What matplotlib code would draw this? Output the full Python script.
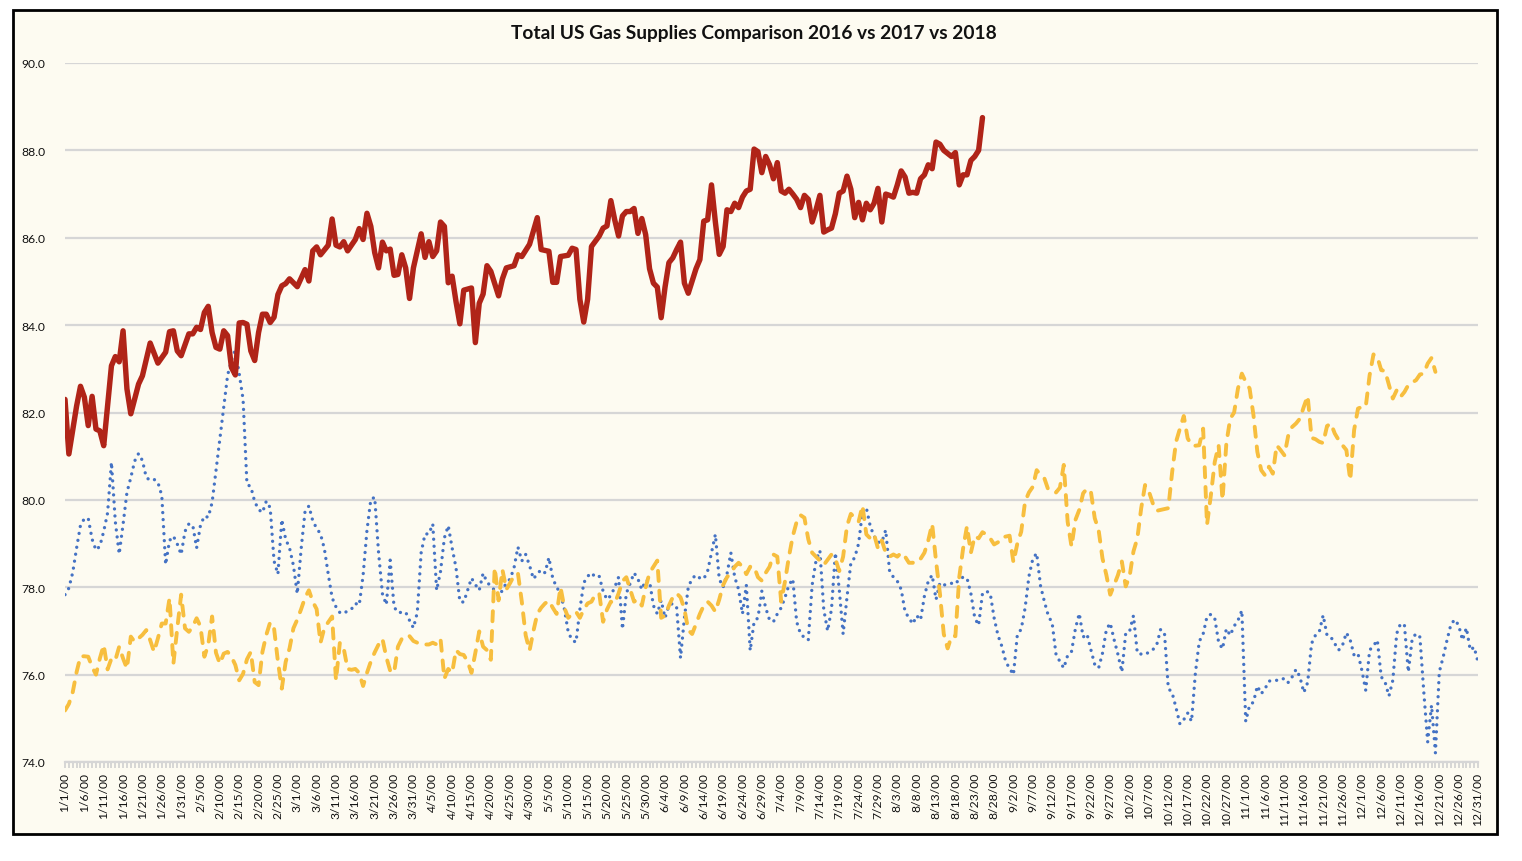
import matplotlib
matplotlib.use("Agg")
import matplotlib.pyplot as plt
from matplotlib.patches import Rectangle

plt.rcParams['font.family'] = ['Lato', 'DejaVu Sans']

title = "Total US Gas Supplies Comparison 2016 vs 2017 vs 2018"

tick_days = list(range(0, 366, 5))
tick_labels = ["1/1/00", "1/6/00", "1/11/00", "1/16/00", "1/21/00", "1/26/00", "1/31/00",
               "2/5/00", "2/10/00", "2/15/00", "2/20/00", "2/25/00", "3/1/00", "3/6/00",
               "3/11/00", "3/16/00", "3/21/00", "3/26/00", "3/31/00", "4/5/00", "4/10/00",
               "4/15/00", "4/20/00", "4/25/00", "4/30/00", "5/5/00", "5/10/00", "5/15/00",
               "5/20/00", "5/25/00", "5/30/00", "6/4/00", "6/9/00", "6/14/00", "6/19/00",
               "6/24/00", "6/29/00", "7/4/00", "7/9/00", "7/14/00", "7/19/00", "7/24/00",
               "7/29/00", "8/3/00", "8/8/00", "8/13/00", "8/18/00", "8/23/00", "8/28/00",
               "9/2/00", "9/7/00", "9/12/00", "9/17/00", "9/22/00", "9/27/00", "10/2/00",
               "10/7/00", "10/12/00", "10/17/00", "10/22/00", "10/27/00", "11/1/00",
               "11/6/00", "11/11/00", "11/16/00", "11/21/00", "11/26/00", "12/1/00",
               "12/6/00", "12/11/00", "12/16/00", "12/21/00", "12/26/00", "12/31/00"]

# (day of year index, value)
s2018 = [(0,82.3),(1,81.05),(3,82.15),(4,82.6),(5,82.35),(6,81.7),(7,82.37),(8,81.62),(9,81.58),(10,81.24),
 (12,83.07),(13,83.28),(14,83.16),(15,83.87),(16,82.54),(17,81.97),(19,82.65),(20,82.84),(22,83.59),(24,83.13),
 (26,83.38),(27,83.85),(28,83.87),(29,83.41),(30,83.3),(32,83.8),(33,83.8),(34,83.95),(35,83.9),(36,84.29),
 (37,84.43),(38,83.83),(39,83.49),(40,83.45),(41,83.87),(42,83.76),(43,83.03),(44,82.86),(45,84.05),(46,84.06),
 (47,84.02),(48,83.41),(49,83.19),(50,83.83),(51,84.25),(52,84.25),(53,84.06),(54,84.18),(55,84.7),(56,84.9),
 (57,84.95),(58,85.06),(60,84.88),(62,85.27),(63,85.01),(64,85.7),(65,85.79),(66,85.61),(68,85.83),(69,86.43),
 (70,85.83),(71,85.79),(72,85.91),(73,85.7),(75,85.96),(76,86.21),(77,85.96),(78,86.56),(79,86.26),(80,85.66),
 (81,85.31),(82,85.9),(83,85.7),(84,85.74),(85,85.14),(86,85.16),(87,85.61),(88,85.31),(89,84.61),(90,85.31),
 (92,86.09),(93,85.55),(94,85.91),(95,85.57),(96,85.7),(97,86.36),(98,86.26),(99,84.97),(100,85.12),(101,84.54),
 (102,84.03),(103,84.8),(105,84.85),(106,83.6),(107,84.5),(108,84.71),(109,85.36),(110,85.23),(112,84.67),
 (113,85.06),(114,85.31),(116,85.36),(117,85.61),(118,85.57),(120,85.85),(122,86.46),(123,85.73),(124,85.71),
 (125,85.69),(126,84.98),(127,84.98),(128,85.57),(130,85.6),(131,85.76),(132,85.73),(133,84.59),(134,84.07),
 (135,84.59),(136,85.8),(138,86.04),(139,86.22),(140,86.27),(141,86.85),(142,86.41),(143,86.04),(144,86.5),
 (145,86.6),(146,86.6),(147,86.67),(148,86.1),(149,86.44),(150,86.07),(151,85.29),(152,84.96),(153,84.87),
 (154,84.17),(155,84.87),(156,85.43),(157,85.54),(158,85.73),(159,85.9),(160,84.96),(161,84.73),(162,85.01),
 (163,85.29),(164,85.5),(165,86.38),(166,86.41),(167,87.21),(168,86.36),(169,85.62),(170,85.8),(171,86.64),
 (172,86.6),(173,86.79),(174,86.69),(175,86.93),(176,87.07),(177,87.11),(178,88.03),(179,87.97),(180,87.49),
 (181,87.86),(182,87.67),(183,87.35),(184,87.72),(185,87.07),(186,87.02),(187,87.11),(188,87.0),(189,86.88),
 (190,86.69),(191,86.97),(192,86.88),(193,86.36),(194,86.64),(195,86.97),(196,86.13),(197,86.18),(198,86.22),
 (199,86.55),(200,87.02),(201,87.07),(202,87.41),(203,87.11),(204,86.46),(205,86.81),(206,86.41),(207,86.79),
 (208,86.64),(209,86.79),(210,87.13),(211,86.36),(212,87.0),(213,86.97),(214,86.93),(215,87.21),(216,87.53),
 (217,87.39),(218,87.02),(219,87.04),(220,87.02),(221,87.35),(222,87.44),(223,87.67),(224,87.58),(225,88.19),
 (226,88.14),(227,88.0),(229,87.86),(230,87.95),(231,87.21),(232,87.44),(233,87.44),(234,87.77),(235,87.86),
 (236,88.0),(237,88.75)]

s2016 = [(0,77.83),(1,77.98),(2,78.34),(3,78.9),(4,79.42),(5,79.57),(6,79.58),(7,79.1),(8,78.85),(9,78.94),
 (10,79.28),(11,79.7),(12,80.86),(13,79.5),(14,78.76),(15,79.44),(16,80.17),(17,80.51),(18,80.89),(19,81.06),
 (20,80.9),(21,80.51),(22,80.45),(23,80.47),(24,80.4),(25,80.1),(26,78.52),(27,79.07),(28,79.17),(29,78.99),
 (30,78.75),(31,79.28),(32,79.45),(33,79.42),(34,78.9),(35,79.42),(36,79.63),(37,79.6),(38,79.94),(39,80.66),
 (40,81.39),(41,82.12),(42,82.85),(43,83.2),(44,83.44),(45,82.89),(46,82.3),(47,80.36),(48,80.3),(49,79.96),
 (50,79.78),(51,79.71),(52,79.97),(53,79.82),(54,78.6),(55,78.3),(56,79.55),(57,79.1),(58,78.9),(59,78.5),
 (60,77.85),(61,78.88),(62,79.73),(63,79.86),(64,79.52),(65,79.35),(66,79.22),(67,78.88),(68,78.3),(69,77.76),
 (70,77.55),(71,77.42),(72,77.4),(73,77.46),(74,77.5),(75,77.63),(76,77.59),(77,78.27),(78,79.3),(79,80.01),
 (80,80.06),(81,78.79),(82,77.85),(83,77.6),(84,78.62),(85,77.55),(86,77.42),(88,77.43),(89,77.24),(90,77.07),
 (91,77.42),(92,78.79),(93,79.22),(94,79.22),(95,79.45),(96,77.93),(97,78.36),(98,79.13),(99,79.41),(100,78.9),
 (101,78.45),(102,77.67),(103,77.66),(104,77.93),(105,78.21),(106,78.06),(107,77.93),(108,78.32),(109,78.12),
 (110,78.02),(111,77.93),(112,77.8),(113,77.93),(114,78.1),(115,78.19),(116,78.45),(117,78.92),(118,78.6),
 (119,78.75),(120,78.5),(121,78.19),(122,78.31),(123,78.4),(124,78.33),(125,78.68),(126,78.2),(127,78.0),
 (128,77.86),(129,77.5),(130,76.97),(131,76.79),(132,76.74),(133,77.49),(134,78.1),(135,78.25),(136,78.33),
 (137,78.23),(138,78.25),(139,77.91),(140,77.72),(141,77.81),(142,78.0),(143,78.23),(144,77.04),(145,77.86),
 (146,78.09),(147,78.33),(148,78.19),(149,77.95),(150,78.16),(151,78.14),(152,77.58),(153,77.39),(154,77.7),
 (155,77.3),(156,77.58),(157,77.63),(158,77.53),(159,76.38),(160,77.3),(161,78.0),(162,78.2),(163,78.28),
 (164,78.21),(165,78.19),(166,78.37),(167,78.79),(168,79.21),(169,78.19),(170,78.0),(171,78.3),(172,78.79),
 (173,78.23),(174,77.95),(175,77.39),(176,78.05),(177,76.55),(178,77.21),(179,77.3),(180,77.91),(181,77.53),
 (182,77.25),(183,77.21),(184,77.39),(185,77.53),(186,77.77),(187,78.05),(188,78.19),(189,77.21),(190,76.93),
 (191,76.85),(192,76.79),(193,78.05),(194,78.61),(195,78.84),(196,77.49),(197,77.0),(198,77.5),(199,78.79),
 (200,77.95),(201,76.93),(202,77.77),(203,78.56),(204,78.68),(205,79.0),(206,79.73),(207,79.82),(208,79.4),
 (209,79.17),(210,79.03),(211,79.03),(212,79.31),(213,78.37),(214,78.23),(215,78.14),(216,77.95),(217,77.44),
 (218,77.3),(219,77.16),(220,77.35),(221,77.25),(222,77.8),(223,78.14),(224,78.28),(225,77.72),(226,78.1),
 (227,78.05),(229,78.09),(230,78.07),(231,78.19),(232,78.23),(233,78.21),(234,77.86),(235,77.3),(236,77.13),
 (237,77.86),(238,77.91),(239,77.86),(240,77.3),(241,76.9),(242,76.65),(243,76.3),(244,76.14),(245,76.0),
 (246,76.91),(247,77.04),(248,77.52),(249,78.25),(250,78.65),(251,78.78),(252,78.03),(253,77.67),(254,77.35),
 (255,77.18),(256,76.46),(257,76.3),(258,76.15),(259,76.44),(260,76.53),(261,77.05),(262,77.4),(263,76.86),
 (264,76.93),(265,76.57),(266,76.23),(267,76.15),(268,76.49),(269,77.03),(270,77.18),(271,76.8),(272,76.46),
 (273,76.06),(274,76.95),(275,76.99),(276,77.35),(277,76.49),(278,76.47),(279,76.46),(281,76.57),(282,76.68),
 (283,77.03),(284,76.97),(285,75.69),(286,75.58),(287,75.24),(288,74.87),(289,74.97),(290,75.12),(291,74.93),
 (292,76.04),(293,76.76),(294,76.93),(295,77.33),(296,77.38),(297,77.29),(298,76.74),(299,76.59),(300,77.05),
 (301,76.9),(302,77.11),(303,77.24),(304,77.47),(305,74.93),(306,75.3),(307,75.37),(308,75.74),(309,75.56),
 (310,75.68),(311,75.85),(312,75.87),(314,75.87),(315,75.92),(316,75.82),(317,75.95),(318,76.12),(319,75.95),
 (320,75.59),(321,75.82),(322,76.71),(323,76.9),(324,76.98),(325,77.36),(326,76.9),(327,76.86),(328,76.71),
 (329,76.56),(330,76.67),(331,76.96),(332,76.79),(333,76.44),(334,76.48),(335,76.1),(336,75.64),(337,76.56),
 (338,76.66),(339,76.79),(340,75.95),(341,75.83),(342,75.51),(343,75.87),(344,76.94),(345,77.17),(346,77.13),
 (347,76.06),(348,76.82),(349,76.94),(350,76.86),(351,75.6),(352,74.46),(353,75.3),(354,74.21),(355,76.06),
 (356,76.4),(357,76.79),(358,77.15),(359,77.26),(360,77.13),(361,76.79),(362,77.07),(363,76.56),(364,76.63),
 (365,76.29)]

s2017 = [(0,75.18),(1,75.33),(2,75.6),(3,76.06),(4,76.42),(5,76.42),(6,76.41),(7,76.18),(8,76.0),(9,76.37),
 (10,76.68),(11,76.12),(12,76.37),(13,76.33),(14,76.64),(15,76.37),(16,76.14),(17,76.87),(18,76.75),(20,76.91),
 (21,77.02),(22,76.79),(23,76.52),(24,76.83),(25,77.17),(26,77.17),(27,77.75),(28,76.25),(29,77.06),(30,77.83),
 (31,77.06),(32,76.98),(33,77.1),(34,77.29),(35,77.1),(36,76.41),(37,76.68),(38,77.33),(39,76.5),(40,76.25),
 (41,76.48),(42,76.52),(43,76.41),(44,76.22),(45,75.87),(46,76.02),(47,76.35),(48,76.52),(49,75.83),(50,75.76),
 (51,76.52),(52,76.91),(53,77.2),(54,77.06),(55,76.3),(56,75.68),(57,76.29),(58,76.6),(59,77.06),(60,77.26),
 (61,77.5),(62,77.76),(63,77.93),(64,77.67),(65,77.5),(66,76.73),(67,77.07),(68,77.2),(69,77.33),(70,75.87),
 (71,76.73),(72,76.6),(73,76.13),(74,76.11),(75,76.13),(76,76.04),(77,75.74),(78,76.04),(79,76.3),(80,76.51),
 (81,76.69),(82,76.82),(83,76.4),(84,76.09),(85,76.04),(86,76.64),(87,76.82),(88,76.9),(89,76.88),(90,76.77),
 (92,76.69),(93,76.69),(94,76.69),(95,76.73),(96,76.69),(97,76.82),(98,75.91),(99,76.13),(100,76.04),(101,76.56),
 (102,76.47),(103,76.45),(104,76.3),(105,76.04),(106,76.5),(107,76.99),(108,76.64),(109,76.56),(110,76.34),
 (111,78.45),(112,77.7),(113,78.4),(114,77.95),(115,78.1),(116,78.27),(117,78.32),(118,77.67),(119,76.9),
 (120,76.55),(121,77.0),(122,77.39),(123,77.53),(124,77.63),(125,77.69),(126,77.53),(127,77.39),(128,78.0),
 (129,77.53),(130,77.3),(131,77.39),(132,77.44),(133,77.3),(134,77.49),(135,77.63),(136,77.67),(137,77.84),
 (138,77.86),(139,77.21),(140,77.49),(141,77.67),(142,77.63),(143,77.86),(144,78.14),(145,78.23),(146,77.95),
 (147,77.67),(148,77.72),(149,77.58),(150,78.0),(151,78.33),(152,78.47),(153,78.61),(154,77.3),(155,77.35),
 (156,77.58),(157,77.77),(158,77.86),(159,77.77),(160,77.5),(161,77.02),(162,76.93),(163,77.16),(164,77.39),
 (165,77.58),(166,77.67),(167,77.58),(168,77.44),(169,77.72),(170,78.05),(171,78.23),(172,78.33),(173,78.47),
 (174,78.56),(175,78.47),(176,78.3),(177,78.47),(178,78.47),(179,78.23),(180,78.15),(181,78.33),(182,78.47),
 (183,78.75),(184,78.7),(185,77.67),(186,78.14),(187,78.7),(188,79.17),(189,79.5),(190,79.65),(191,79.59),
 (192,79.1),(193,78.79),(194,78.7),(195,78.61),(196,78.51),(197,78.63),(198,78.75),(199,78.65),(200,78.37),
 (201,78.7),(202,79.4),(203,79.68),(204,79.59),(205,79.5),(206,79.87),(207,79.21),(208,79.12),(209,79.21),
 (210,78.89),(211,79.07),(212,78.79),(213,78.7),(214,78.75),(215,78.7),(216,78.79),(217,78.7),(218,78.56),
 (219,78.56),(220,78.65),(221,78.65),(222,78.79),(223,79.07),(224,79.45),(225,78.6),(226,77.86),(227,76.93),
 (228,76.6),(229,76.88),(230,76.88),(231,78.23),(232,78.89),(233,79.4),(234,78.79),(235,79.17),(236,79.12),
 (237,79.26),(238,79.21),(239,79.12),(240,78.98),(241,79.03),(242,79.14),(243,79.16),(244,79.18),(245,78.57),
 (246,79.0),(247,79.27),(248,79.96),(249,80.17),(250,80.3),(251,80.68),(252,80.57),(253,80.49),(254,80.23),
 (255,80.2),(256,80.17),(257,80.28),(258,80.8),(259,79.5),(260,78.93),(261,79.54),(262,79.77),(263,80.15),
 (264,80.26),(265,80.19),(266,79.58),(267,79.31),(268,78.66),(269,78.28),(270,77.83),(271,78.05),(272,78.28),
 (273,78.59),(274,78.02),(275,78.25),(276,78.82),(277,79.12),(278,79.81),(279,80.34),(280,80.19),(281,79.92),
 (282,79.75),(283,79.77),(284,79.79),(285,79.81),(286,80.64),(287,81.33),(288,81.63),(289,81.92),(290,81.41),
 (291,81.25),(292,81.24),(293,81.25),(294,81.63),(295,79.43),(296,80.11),(297,80.87),(298,81.25),(299,80.0),
 (300,81.3),(301,81.86),(302,82.0),(303,82.55),(304,82.89),(305,82.7),(306,82.55),(307,81.94),(308,81.1),
 (309,80.68),(310,80.56),(311,80.76),(312,80.6),(313,81.25),(314,81.14),(315,81.02),(316,81.48),(317,81.67),
 (318,81.75),(319,81.86),(320,82.13),(321,82.38),(322,81.42),(323,81.39),(324,81.33),(325,81.3),(326,81.69),
 (327,81.75),(328,81.52),(329,81.37),(330,81.25),(331,81.14),(332,80.45),(333,81.6),(334,82.09),(335,82.13),
 (336,82.13),(337,82.85),(338,83.33),(339,83.27),(340,82.97),(341,82.95),(342,82.63),(343,82.32),(344,82.51),
 (345,82.36),(346,82.47),(347,82.63),(348,82.69),(349,82.74),(350,82.87),(351,82.89),(352,83.12),(353,83.25),
 (354,82.93)]

y_ticks = [74.0, 76.0, 78.0, 80.0, 82.0, 84.0, 86.0, 88.0, 90.0]

W, H = 1522, 862
fig = plt.figure(figsize=(W / 100, H / 100), dpi=100)
fig.patch.set_facecolor("white")
cream = "#FDFBF1"
fig.patches.append(Rectangle((13 / W, 1 - 835 / H), (1497 - 13) / W, (835 - 11) / H,
                             transform=fig.transFigure, facecolor=cream, edgecolor="black",
                             linewidth=2, zorder=-5))

ax = fig.add_axes([65 / W, 1 - 763 / H, (1478 - 65) / W, (763 - 64) / H])
ax.set_zorder(2)
ax.patch.set_visible(False)

d16, v16 = zip(*s2016)
d17, v17 = zip(*s2017)
d18, v18 = zip(*s2018)

ax.plot(d16, v16, color="#4472C4", linewidth=2.4, linestyle=(0, (0.01, 2.1)),
        dash_capstyle="round", solid_capstyle="round", zorder=3)
ax.plot(d17, v17, color="#F7BE3E", linewidth=2.8, linestyle=(0, (2.6, 2.5)),
        dash_capstyle="round", zorder=4)
ax.plot(d18, v18, color="#B02418", linewidth=3.9, solid_joinstyle="round",
        solid_capstyle="round", zorder=5)

ax.set_xlim(0, 365)
ax.set_ylim(74, 90)
ax.set_yticks(y_ticks)
ax.set_yticklabels([f"{v:.1f}" for v in y_ticks])
ax.yaxis.grid(True, color="#D6D6D6", linewidth=1.6, zorder=1)
ax.set_axisbelow(True)
ax.tick_params(axis="y", length=0, pad=14, labelsize=8.7, labelcolor="#111111")

ax.set_xticks(tick_days)
ax.set_xticklabels(tick_labels, rotation=90, fontsize=8.7, color="#111111")
ax.set_xticks(range(0, 366), minor=True)
ax.tick_params(axis="x", which="both", length=4, width=1.2, color="#D0D0D0",
               direction="out", pad=3)

for s in ("top", "right", "left"):
    ax.spines[s].set_visible(False)
ax.spines["bottom"].set_color("#D6D6D6")
ax.spines["bottom"].set_linewidth(1.6)

fig.text(754 / W, 1 - 34 / H, title, ha="center", va="center",
         fontsize=13.8, fontweight="bold", color="#111111")

fig.savefig("out.png", dpi=100, facecolor="white")
